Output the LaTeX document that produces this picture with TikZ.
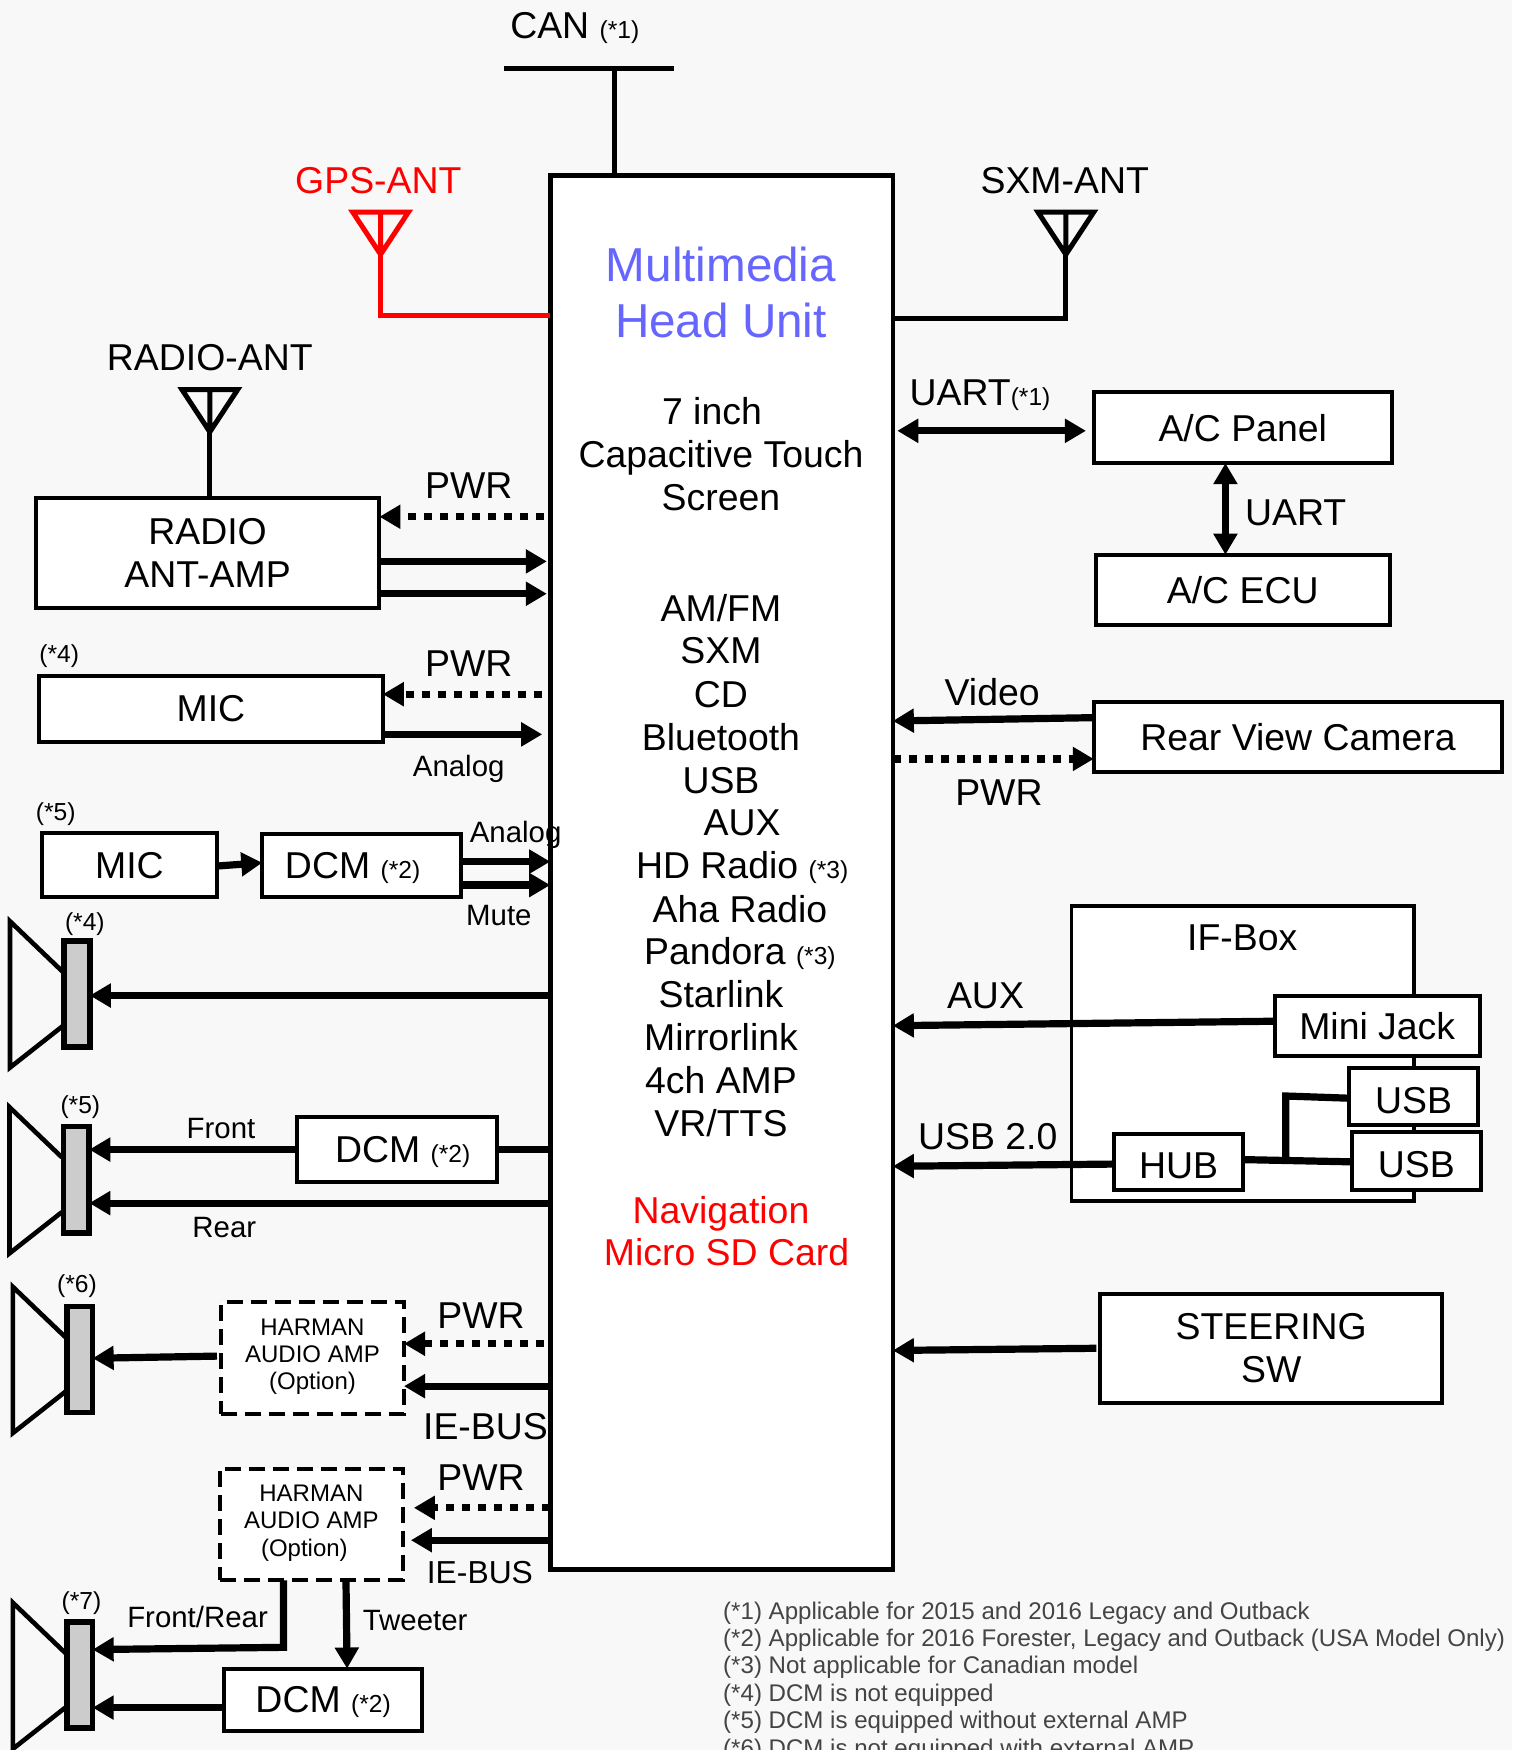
\documentclass[tikz,border=0pt]{standalone}
\usepackage{fontspec}
\setmainfont{Liberation Sans}
\usetikzlibrary{arrows.meta, positioning, calc}
\definecolor{pagebg}{HTML}{F8F8F8}
\definecolor{headblue}{HTML}{6666FF}
\definecolor{magnetgray}{HTML}{CCCCCC}
\definecolor{notegray}{HTML}{444444}
\def\unitpx{0.55793pt}
\newcommand{\starnote}[1]{{\fontsize{12.3}{14}\selectfont #1}}

\begin{document}
\begin{tikzpicture}[
  x=0.55793pt, y=-0.55793pt, outer sep=0pt,
  box/.style 2 args={draw, fill=white, line width=2pt, inner sep=0pt, align=center,
              minimum width=#1*\unitpx, minimum height=#2*\unitpx, text depth=0pt,
              font=\fontsize{18.7}{21.5}\selectfont},
  optbox/.style 2 args={box={#1}{#2}, dash pattern=on 8pt off 4pt, text depth=4pt,
              font=\fontsize{12}{13.7}\selectfont},
  magnet/.style={draw, fill=magnetgray, line width=2.8pt, inner sep=0pt,
              minimum width=23*\unitpx, minimum height=95*\unitpx},
  lbl/.style={inner sep=0pt, align=center, text depth=0pt, font=\fontsize{18.7}{21.5}\selectfont},
  sublbl/.style={inner sep=0pt, align=center, text depth=0pt, font=\fontsize{14.7}{18}\selectfont},
  cornerlbl/.style={inner sep=0pt, text depth=0pt, font=\fontsize{12.3}{14}\selectfont},
  wire/.style={line width=2.5pt},
  arr/.style={-{Triangle[length=10.5pt, width=11.5pt]}, line width=3.6pt},
  dotarr/.style={arr, dash pattern=on 4.2pt off 3.8pt},
  biarr/.style={{Triangle[length=10.5pt, width=11.5pt]}-{Triangle[length=10.5pt, width=11.5pt]}, line width=3.6pt},
  antenna/.pic={
    \draw[pic actions, line width=2.5pt] (-25,0) -- (25,0) -- (0,38) -- cycle (0,0) -- (0,38);
    \coordinate (foot) at (0,38);
  },
  speaker/.pic={
    \draw[line width=2.3pt] (-13,-20) -- (-60,-65) -- (-60,66) -- (-13,29);
    \node[magnet] (mag) at (0,0) {};
  }
]
  \clip (0,0) rectangle (1355,1568);
  \fill[pagebg] (0,0) rectangle (1355,1568);

  % head unit
  \node[box={307}{1249}, line width=2.3pt] (head) at (646.5,781.5) {};
  \node[lbl, text=headblue, font=\fontsize{23.8}{27.9}\selectfont] (headtitle) at (646,262) {Multimedia\\Head Unit};
  \node[lbl] (headscreen) at (646,407) {7 inch\hspace*{9pt}\\Capacitive Touch\\Screen};
  \foreach \txt/\xx/\yy in {{AM/FM}/646/545, SXM/646/583, CD/646/622, Bluetooth/646/660, USB/646/699,
      AUX/665/737, {HD Radio \starnote{(*3)}}/665/775, Aha Radio/663/814,
      {Pandora \starnote{(*3)}}/663/852, Starlink/646/891, Mirrorlink/646/929,
      4ch AMP/646/968, {VR/TTS}/646/1006}
    \node[lbl] (item\yy) at (\xx,\yy) {\txt};
  \node[lbl, text=red] (navone) at (646,1084) {Navigation};
  \node[lbl, text=red] (navtwo) at (651,1122) {Micro SD Card};

  % top: can and antennas
  \node[lbl] (canlbl) at (515,23) {CAN \starnote{(*1)}};
  \coordinate (canleft) at (452,61);
  \coordinate (canright) at (604,61);
  \draw[wire] (canleft) -- (canright);
  \draw[wire] (551,61) -- (head.north -| 551,61);

  \node[lbl, text=red] (gpslbl) at (339,162) {GPS-ANT};
  \pic[red] (gps) at (341,190) {antenna};
  \draw[wire, red] (gpsfoot) |- (head.west |- 0,283);

  \node[lbl] (sxmlbl) at (954,162) {SXM-ANT};
  \pic (sxm) at (955,190) {antenna};
  \draw[wire] (sxmfoot) |- (head.east |- 0,285);

  % left column
  \node[lbl] (radlbl) at (188,320) {RADIO-ANT};
  \pic (radant) at (188,349) {antenna};
  \node[box={308}{99}] (radio) at (186,495.5) {RADIO\\ANT-AMP};
  \draw[wire] (radantfoot) -- (radio.north -| radantfoot);
  \node[lbl] (radpwr) at (420,435) {PWR};
  \draw[dotarr, shorten <=3pt] (head.west |- 0,463) -- (radio.east |- 0,463);
  \draw[arr, shorten <=1pt, shorten >=1.7pt] (radio.east |- 0,503) -- (head.west |- 0,503);
  \draw[arr, shorten <=1pt, shorten >=1.7pt] (radio.east |- 0,532) -- (head.west |- 0,532);

  \node[cornerlbl] (noteanamic) at (53,586) {(*4)};
  \node[box={308}{59}] (mica) at (189,635) {MIC};
  \node[lbl] (micapwr) at (420,595) {PWR};
  \draw[dotarr, shorten <=4pt] (head.west |- 0,622) -- (mica.east |- 0,622);
  \draw[arr, shorten >=4pt] (mica.east |- 0,658) -- (head.west |- 0,658);
  \node[sublbl] (micaana) at (411,686) {Analog};

  \node[cornerlbl] (notedcmmic) at (50,727) {(*5)};
  \node[box={156}{58}] (micb) at (116,775) {MIC};
  \node[box={178}{57}] (dcma) at (324,775.5) {DCM \starnote{(*2)}\hspace*{9pt}};
  \draw[arr] (micb.east |- 0,776) -- (dcma.west |- 0,773);
  \draw[arr] (dcma.east |- 0,772) -- (head.west |- 0,772);
  \draw[arr] (dcma.east |- 0,793) -- (head.west |- 0,793);
  \node[sublbl] (dcmaana) at (462,745) {Analog};
  \node[sublbl] (dcmamute) at (447,820) {Mute};

  % speakers
  \node[cornerlbl] (notespka) at (76,826) {(*4)};
  \pic (spka) at (69,890.5) {speaker};
  \draw[arr] (head.west |- 0,892) -- (spkamag.east |- 0,892);

  \node[cornerlbl] (notespkb) at (72,990) {(*5)};
  \pic (spkb) at (68.5,1057) {speaker};
  \node[box={179}{58}] (dcmb) at (355.5,1030) {\hspace*{6pt}DCM \starnote{(*2)}};
  \draw[wire, line width=3.6pt] (head.west |- dcmb) -- (dcmb.east);
  \draw[arr] (dcmb.west) -- (spkbmag.east |- dcmb);
  \draw[arr] (head.west |- 0,1078) -- (spkbmag.east |- 0,1078);
  \node[sublbl] (frontlbl) at (198,1011) {Front};
  \node[sublbl] (rearlbl) at (201,1100) {Rear};

  \node[cornerlbl] (notespkc) at (69,1150) {(*6)};
  \pic (spkc) at (71.5,1218) {speaker};
  \node[optbox={164}{100}] (harmana) at (280,1217) {HARMAN\\AUDIO AMP\\(Option)};
  \node[lbl] (harmanapwr) at (431,1179) {PWR};
  \node[lbl] (harmanabus) at (435,1278) {IE-BUS};
  \draw[dotarr, shorten <=3pt] (head.west |- 0,1204) -- (harmana.east |- 0,1204);
  \draw[arr] (head.west |- 0,1242) -- (harmana.east |- 0,1242);
  \draw[arr, shorten <=2pt] (harmana.west |- 0,1215) -- (spkcmag.east |- 0,1217);

  \node[cornerlbl] (notespkd) at (73,1434) {(*7)};
  \pic (spkd) at (71.5,1501) {speaker};
  \node[optbox={164}{100}] (harmanb) at (279,1366) {HARMAN\\AUDIO AMP\\\hspace*{-7pt}(Option)};
  \node[lbl] (harmanbpwr) at (431,1324) {PWR};
  \node[sublbl, font=\fontsize{15.9}{18}\selectfont] (harmanbbus) at (430,1409) {IE-BUS};
  \draw[dotarr, shorten >=5.5pt] (head.west |- 0,1351) -- (harmanb.east |- 0,1351);
  \draw[arr, shorten >=4pt] (head.west |- 0,1380) -- (harmanb.east |- 0,1380);
  \node[box={177}{56}] (dcmc) at (289.5,1523) {DCM \starnote{(*2)}};
  \draw[arr] (dcmc.west |- 0,1530) -- (spkdmag.east |- 0,1530);
  \draw[arr] (harmanb.south -| 254,0) -- (254,1476) -- (spkdmag.east |- 0,1478);
  \draw[arr] (harmanb.south -| 310,0) -- (dcmc.north -| 311,0);
  \node[sublbl] (frontrear) at (177,1449) {Front/Rear};
  \node[sublbl] (tweeter) at (372,1452) {Tweeter};

  % right column
  \node[box={267}{64}] (acpanel) at (1113.5,383) {A/C Panel};
  \node[box={263}{63}] (acecu) at (1113.5,528.5) {A/C ECU};
  \node[lbl, anchor=west] (uartone) at (815,352) {UART\starnote{(*1)}};
  \node[lbl] (uarttwo) at (1161,459) {UART};
  \draw[biarr, shorten <=2.2pt, shorten >=3.9pt] (head.east |- 0,386) -- (acpanel.west |- 0,386);
  \draw[biarr] (acpanel.south -| 1098,0) -- (acecu.north -| 1098,0);

  \node[box={366}{63}] (camera) at (1163,660.5) {Rear View Camera};
  \node[lbl] (videolbl) at (889,620) {Video};
  \node[lbl] (campwr) at (895,710) {PWR};
  \draw[arr] (camera.west |- 0,643) -- (head.east |- 0,646);
  \draw[dotarr] (head.east |- 0,680) -- (camera.west |- 0,680);

  \node[box={307}{264}, line width=1.8pt] (ifbox) at (1113.5,944) {};
  \node[lbl] (iflbl) at (1113,840) {IF-Box};
  \node[box={184}{54}] (minijack) at (1234,919) {Mini Jack};
  \node[box={115}{51}, text height=16.8pt] (usba) at (1266.5,982.5) {USB};
  \node[box={116}{52}, text height=16.8pt] (usbb) at (1269,1040) {USB};
  \node[box={116}{50}, text height=16.8pt] (hub) at (1056,1041) {HUB};
  \node[lbl] (auxlbl) at (883,892) {AUX};
  \node[lbl] (usblbl) at (885,1018) {USB 2.0};
  \draw[arr] (minijack.west |- 0,915) -- (head.east |- 0,919);
  \draw[arr] (hub.west |- 0,1043) -- (head.east |- 0,1045);
  \draw[wire, line width=3.6pt] (hub.east |- 0,1039) -- (usbb.west |- 0,1041);
  \draw[wire, line width=3.6pt] (1152,1039) -- (1152,982) -- (usba.west |- 0,984);

  \node[box={306}{98}] (steering) at (1139,1208) {STEERING\\SW};
  \draw[arr, shorten <=2pt] (steering.west |- 0,1208) -- (head.east |- 0,1210);

  % notes
  \node[inner sep=0pt, anchor=north west, align=left, text=notegray,
        font=\fontsize{12.04}{13.72}\selectfont] (notes) at (648,1435)
    {(*1) Applicable for 2015 and 2016 Legacy and Outback\\
     (*2) Applicable for 2016 Forester, Legacy and Outback (USA Model Only)\\
     (*3) Not applicable for Canadian model\\
     (*4) DCM is not equipped\\
     (*5) DCM is equipped without external AMP\\
     (*6) DCM is not equipped with external AMP};
\end{tikzpicture}
\end{document}
